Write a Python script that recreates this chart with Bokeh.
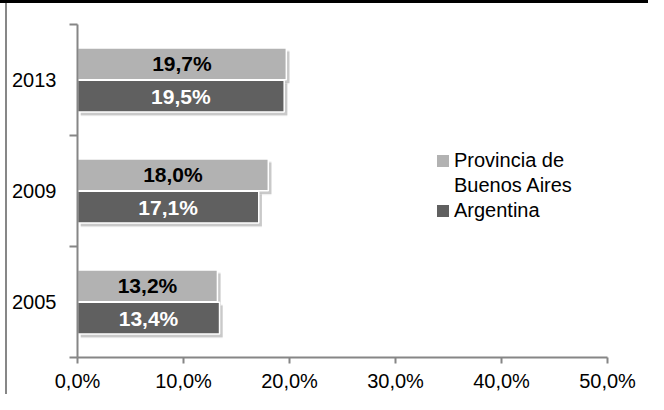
from bokeh.plotting import figure
from bokeh.models import FixedTicker, Legend, LegendItem, ColumnDataSource
from bokeh.core.properties import value
from bokeh.embed import file_html
from bokeh.resources import INLINE

years = ["2005", "2009", "2013"]
provincia = [13.2, 18.0, 19.7]
argentina = [13.4, 17.1, 19.5]
x_ticks = [0, 10, 20, 30, 40, 50]
x_tick_labels = ["0,0%", "10,0%", "20,0%", "30,0%", "40,0%", "50,0%"]
series_names = ["Provincia de", "Buenos Aires", "Argentina"]

FONT = "Liberation Sans"
LIGHT = "#b2b2b2"
DARK = "#606060"
AXIS = "#868686"

W, H = 648, 394
p = figure(width=W, height=H, output_backend="svg", toolbar_location=None,
           x_range=(0, 50), y_range=(0, 3),
           min_border_left=77, min_border_right=41, min_border_top=24, min_border_bottom=32)
p.border_fill_color = None
p.background_fill_color = None
p.outline_line_color = None
p.styles = {"background": "linear-gradient(#000,#000) 0 0 / 100% 3px no-repeat, "
                          "linear-gradient(#878787,#878787) 5px 0 / 2px 100% no-repeat, white"}
p.xgrid.visible = False
p.ygrid.visible = False

centers = [i + 0.5 for i in range(len(years))]
off = 0.145
bh = 0.285
prov_y = [c + off for c in centers]
arg_y = [c - off for c in centers]

def fmt(v):
    return f"{v:.1f}".replace(".", ",") + "%"

src_p = ColumnDataSource(dict(y=prov_y, v=provincia, half=[v / 2 for v in provincia],
                              ys=[y - 0.03 for y in prov_y], vs=[v + 0.3 for v in provincia],
                              lab=[fmt(v) for v in provincia]))
src_a = ColumnDataSource(dict(y=arg_y, v=argentina, half=[v / 2 for v in argentina],
                              ys=[y - 0.03 for y in arg_y], vs=[v + 0.3 for v in argentina],
                              lab=[fmt(v) for v in argentina]))

# soft drop shadows
for s in (src_a, src_p):
    p.hbar(y="ys", left=0.3, right="vs", height=bh, source=s,
           fill_color="black", fill_alpha=0.16, line_color=None)
    p.hbar(y="ys", left=0.3, right="vs", height=bh + 0.02, source=s,
           fill_color="black", fill_alpha=0.06, line_color=None)

p.hbar(y="y", left=0, right="v", height=bh, source=src_p,
       fill_color=LIGHT, line_color="white", line_width=1.5)
p.hbar(y="y", left=0, right="v", height=bh, source=src_a,
       fill_color=DARK, line_color="white", line_width=1.5)

p.text(x="half", y="y", text="lab", source=src_p, text_align="center", text_baseline="middle",
       text_font=value(FONT), text_font_style="bold", text_font_size="21px", text_color="black")
p.text(x="half", y="y", text="lab", source=src_a, text_align="center", text_baseline="middle",
       text_font=value(FONT), text_font_style="bold", text_font_size="21px", text_color="white")

# legend swatches: zero-height copies of the bars, only used by the legend
leg_p = p.hbar(y="y", left=0, right="v", height=0, source=src_p,
               fill_color=LIGHT, line_color=None)
leg_none = p.hbar(y="y", left=0, right="v", height=0, source=src_p,
                  fill_alpha=0, line_alpha=0)
leg_a = p.hbar(y="y", left=0, right="v", height=0, source=src_a,
               fill_color=DARK, line_color=None)

# x axis
xa = p.xaxis[0]
xa.ticker = FixedTicker(ticks=x_ticks, minor_ticks=[])
xa.major_label_overrides = {t: l for t, l in zip(x_ticks, x_tick_labels)}
xa.axis_line_color = AXIS
xa.axis_line_width = 2
xa.major_tick_line_color = AXIS
xa.major_tick_line_width = 2
xa.major_tick_out = 6
xa.major_tick_in = 0
xa.minor_tick_line_color = None
xa.major_label_text_font = FONT
xa.major_label_text_font_size = "20px"
xa.major_label_text_color = "black"
xa.major_label_standoff = 6

# y axis (labels at band centres, ticks at band boundaries)
ya = p.yaxis[0]
ya.ticker = FixedTicker(ticks=centers, minor_ticks=[0, 1, 2, 3])
ya.major_label_overrides = {c: y for c, y in zip(centers, years)}
ya.axis_line_color = AXIS
ya.axis_line_width = 2
ya.major_tick_line_color = None
ya.major_tick_out = 0
ya.major_tick_in = 0
ya.minor_tick_line_color = AXIS
ya.minor_tick_line_width = 2
ya.minor_tick_out = 8
ya.minor_tick_in = 0
ya.major_label_text_font = FONT
ya.major_label_text_font_size = "20px"
ya.major_label_text_color = "black"
ya.major_label_standoff = 13

legend = Legend(items=[LegendItem(label=series_names[0], renderers=[leg_p]),
                       LegendItem(label=series_names[1], renderers=[leg_none]),
                       LegendItem(label=series_names[2], renderers=[leg_a])],
                location=(358, 135), orientation="vertical",
                label_text_font=FONT, label_text_font_size="20px", label_text_color="black",
                glyph_width=15, glyph_height=15, label_standoff=4, spacing=2,
                padding=0, margin=0, border_line_color=None, background_fill_alpha=0)
p.add_layout(legend)

open("out.html", "w").write(file_html(p, INLINE))
